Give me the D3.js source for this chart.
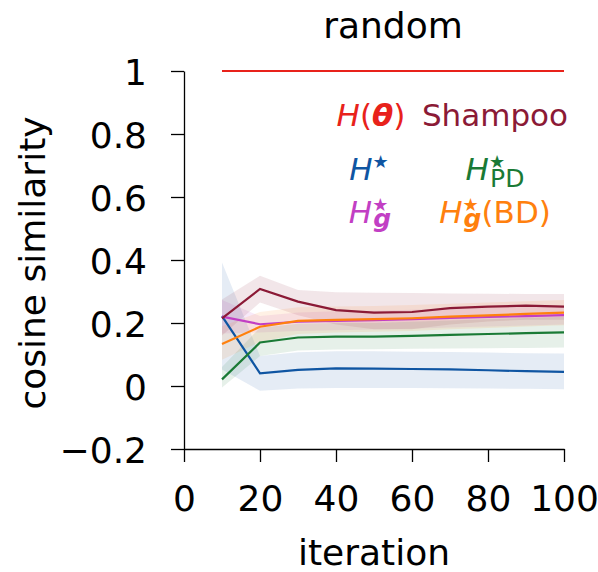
<!DOCTYPE html>
<html>
<head>
<meta charset="utf-8">
<title>random</title>
<script src="https://d3js.org/d3.v7.min.js"></script>
<style>
  body { margin: 0; background: #fff; }
  text { font-family: "DejaVu Sans", sans-serif; }
</style>
</head>
<body>
<script>
// data
var iterations = [10, 20, 30, 40, 50, 60, 70, 80, 90, 100]

var hTheta = [1, 1, 1, 1, 1, 1, 1, 1, 1, 1]

var hStar   = [0.222, 0.040, 0.051, 0.056, 0.055, 0.054, 0.053, 0.050, 0.047, 0.045]
var hStarLo = [0.052, -0.015, -0.008, -0.006, -0.006, -0.006, -0.007, -0.008, -0.009, -0.010]
var hStarHi = [0.392, 0.095, 0.107, 0.110, 0.110, 0.109, 0.108, 0.106, 0.104, 0.103]

var hG   = [0.220, 0.196, 0.204, 0.207, 0.209, 0.212, 0.216, 0.219, 0.222, 0.225]
var hGLo = [0.167, 0.170, 0.175, 0.177, 0.179, 0.182, 0.186, 0.189, 0.192, 0.195]
var hGHi = [0.273, 0.222, 0.233, 0.237, 0.239, 0.242, 0.246, 0.249, 0.252, 0.255]

var shampoo   = [0.215, 0.308, 0.268, 0.241, 0.233, 0.235, 0.247, 0.252, 0.255, 0.252]
var shampooLo = [0.160, 0.265, 0.225, 0.195, 0.180, 0.180, 0.195, 0.205, 0.210, 0.210]
var shampooHi = [0.275, 0.350, 0.305, 0.298, 0.296, 0.295, 0.294, 0.293, 0.292, 0.292]

var hPD   = [0.021, 0.138, 0.154, 0.157, 0.157, 0.159, 0.162, 0.165, 0.168, 0.170]
var hPDLo = [-0.005, 0.095, 0.113, 0.116, 0.117, 0.118, 0.119, 0.120, 0.121, 0.122]
var hPDHi = [0.060, 0.185, 0.198, 0.200, 0.200, 0.204, 0.208, 0.212, 0.216, 0.220]

var hBD   = [0.133, 0.188, 0.207, 0.210, 0.212, 0.215, 0.220, 0.224, 0.229, 0.233]
var hBDLo = [0.083, 0.140, 0.165, 0.170, 0.172, 0.175, 0.180, 0.184, 0.189, 0.193]
var hBDHi = [0.190, 0.235, 0.250, 0.252, 0.254, 0.257, 0.261, 0.265, 0.269, 0.273]

var xTicks = [0, 20, 40, 60, 80, 100]
var yTicks = [-0.2, 0, 0.2, 0.4, 0.6, 0.8, 1]

var width = 598
    height = 572

var svg = d3.select("body").append("svg")
            .attr("width", width)
            .attr("height", height)

var x = d3.scaleLinear().domain([0, 100]).range([184, 564])
var y = d3.scaleLinear().domain([-0.2, 1]).range([449, 71])

// plot order follows the legend order
var series = [
  {mean: hTheta, color: "#e8221b"},
  {mean: hStar, lo: hStarLo, hi: hStarHi, color: "#0f55a2"},
  {mean: hG, lo: hGLo, hi: hGHi, color: "#c23fc4"},
  {mean: shampoo, lo: shampooLo, hi: shampooHi, color: "#8b1a36"},
  {mean: hPD, lo: hPDLo, hi: hPDHi, color: "#1a7a35"},
  {mean: hBD, lo: hBDLo, hi: hBDHi, color: "#ff800e"}
]

var area = d3.area()
             .x(function(d) { return x(d.it) })
             .y0(function(d) { return y(d.lo) })
             .y1(function(d) { return y(d.hi) })

var line = d3.line()
             .x(function(d) { return x(d.it) })
             .y(function(d) { return y(d.v) })

// shaded bands first, then the lines on top
series.forEach(function(s) {
  if (!s.lo) return
  var pts = iterations.map(function(it, i) { return {it: it, lo: s.lo[i], hi: s.hi[i]} })
  svg.append("path")
     .attr("d", area(pts))
     .attr("fill", s.color)
     .attr("fill-opacity", 0.11)
})

series.forEach(function(s) {
  var pts = iterations.map(function(it, i) { return {it: it, v: s.mean[i]} })
  svg.append("path")
     .attr("d", line(pts))
     .attr("fill", "none")
     .attr("stroke", s.color)
     .attr("stroke-width", 2.2)
})

// axes
var fmtY = function(d) { return d === 0 ? "0" : d === 1 ? "1" : d3.format(".1f")(d).replace("-", "\u2212") }

var xAxis = svg.append("g")
               .attr("transform", "translate(0," + y(-0.2) + ")")
               .call(d3.axisBottom(x).tickValues(xTicks).tickSizeInner(13).tickSizeOuter(0).tickPadding(23))

var yAxis = svg.append("g")
               .attr("transform", "translate(" + x(0) + ",0)")
               .call(d3.axisLeft(y).tickValues(yTicks).tickFormat(fmtY).tickSizeInner(13).tickSizeOuter(0).tickPadding(24))

yAxis.selectAll(".tick text").attr("dy", "0.37em")

svg.selectAll(".domain, .tick line").attr("stroke", "#000").attr("stroke-width", 1.3)
svg.selectAll(".tick text")
   .attr("fill", "#000")
   .style("font-family", "'DejaVu Sans', sans-serif")
   .style("font-size", "36px")

// labels
svg.append("text")
   .attr("x", 393).attr("y", 38)
   .attr("text-anchor", "middle")
   .style("font-size", "36px")
   .text("random")

svg.append("text")
   .attr("x", 374).attr("y", 565)
   .attr("text-anchor", "middle")
   .style("font-size", "36px")
   .text("iteration")

svg.append("text")
   .attr("transform", "translate(45,263) rotate(-90)")
   .attr("text-anchor", "middle")
   .style("font-size", "36px")
   .text("cosine similarity")

// legend: coloured text only, two columns
function entry(cx, by, color, parts) {
  var t = svg.append("text")
             .attr("x", cx).attr("y", by)
             .attr("text-anchor", "middle")
             .attr("fill", color)
             .style("font-size", "31px")
  parts.forEach(function(p) {
    var s = t.append("tspan").text(p.t)
    if (p.it) s.style("font-style", "italic")
    if (p.b) s.style("font-weight", "bold")
    if (p.size) s.style("font-size", p.size + "px")
    if (p.dx) s.attr("dx", p.dx)
    if (p.dy) s.attr("dy", p.dy)
  })
}

var star = "\u2605"

entry(371, 126, series[0].color, [{t: "H", it: 1}, {t: "("}, {t: "\u03b8", it: 1, b: 1}, {t: ")"}])
entry(495, 126, series[3].color, [{t: "Shampoo"}])
entry(369, 180, series[1].color, [{t: "H", it: 1}, {t: star, size: 18, dy: -12}])
entry(495, 180, series[4].color, [{t: "H", it: 1}, {t: star, size: 18, dy: -12},
                                  {t: "PD", size: 25, dx: -15, dy: 19}])
entry(370, 223, series[2].color, [{t: "H", it: 1}, {t: star, size: 18, dy: -12},
                                  {t: "g", it: 1, b: 1, size: 25, dx: -15, dy: 16}])
entry(495, 223, series[5].color, [{t: "H", it: 1}, {t: star, size: 18, dy: -12},
                                  {t: "g", it: 1, b: 1, size: 25, dx: -15, dy: 16},
                                  {t: "(BD)", dy: -4}])
</script>
</body>
</html>
